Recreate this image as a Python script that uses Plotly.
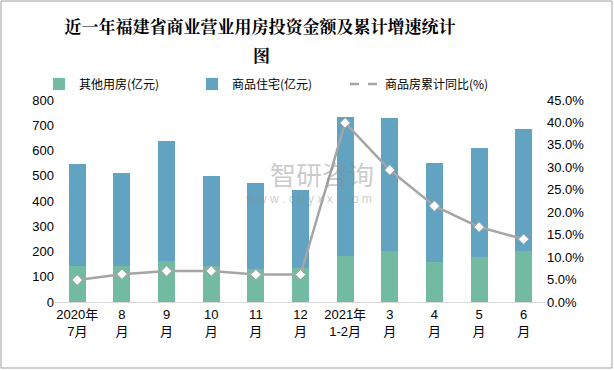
import plotly.graph_objects as go

categories = ["2020年<br>7月", "8<br>月", "9<br>月", "10<br>月", "11<br>月", "12<br>月",
              "2021年<br>1-2月", "3<br>月", "4<br>月", "5<br>月", "6<br>月"]
other_use = [143, 143, 161, 143, 129, 134, 182, 201, 158, 178, 201]
housing = [404, 368, 477, 356, 342, 310, 551, 528, 393, 432, 484]
growth_pct = [4.9, 6.2, 6.9, 6.9, 6.1, 6.1, 39.9, 29.4, 21.4, 16.7, 14.0]

FONT = "Liberation Sans, Noto Sans CJK SC, sans-serif"
TITLE_FONT = "Noto Serif CJK SC, Noto Sans CJK SC, serif"
LINE_NAME = "商品房累计同比(%)"

fig = go.Figure()
fig.add_trace(go.Bar(x=categories, y=other_use, name="其他用房(亿元)",
                     marker=dict(color="#72BBA2", line=dict(width=0))))
fig.add_trace(go.Bar(x=categories, y=housing, name="商品住宅(亿元)",
                     marker=dict(color="#62A3C2", line=dict(width=0))))
fig.add_trace(go.Scatter(x=categories, y=growth_pct, name=LINE_NAME, yaxis="y2",
                         mode="lines+markers", showlegend=False,
                         line=dict(color="#A5A5A5", width=2.5),
                         marker=dict(symbol="diamond", size=8, color="white",
                                     line=dict(color="#A5A5A5", width=1))))
# legend entry (dashed swatch as in the reference)
fig.add_trace(go.Scatter(x=[None], y=[None], name=LINE_NAME, yaxis="y2", mode="lines",
                         line=dict(color="#A5A5A5", width=2.5, dash="dash")))

fig.update_layout(
    width=614, height=370,
    margin=dict(l=55, r=68, t=100, b=68, autoexpand=False),
    paper_bgcolor="white", plot_bgcolor="white",
    barmode="stack", bargap=0.62,
    font=dict(family=FONT, size=13, color="#000000"),
    title=dict(text="<b>近一年福建省商业营业用房投资金额及累计增速统计</b>",
               x=260 / 614, xanchor="center", xref="container",
               y=(370 - 27) / 370, yanchor="middle", yref="container",
               font=dict(family=TITLE_FONT, size=17, color="#000000")),
    legend=dict(orientation="h", x=(39 - 55) / 491, xanchor="left", y=(302 - 84) / 202, yanchor="middle",
                font=dict(family="Noto Sans CJK SC, sans-serif", size=12, color="#000000"),
                itemwidth=30, traceorder="normal", entrywidth=108, bgcolor="rgba(0,0,0,0)"),
    xaxis=dict(showline=True, linecolor="#D9D9D9", linewidth=1, ticks="",
               range=[-0.5, len(categories) - 0.5],
               tickfont=dict(size=13), showgrid=False),
    yaxis=dict(range=[0, 800], dtick=100, showgrid=False, zeroline=False,
               showline=False, tickfont=dict(size=13)),
    yaxis2=dict(range=[0, 45], dtick=5, overlaying="y", side="right", showgrid=False,
                zeroline=False, ticksuffix="%", tickformat=".1f", tickfont=dict(size=13)),
    shapes=[dict(type="rect", xref="paper", yref="paper",
                 x0=(1 - 55) / 491, x1=(612 - 55) / 491,
                 y0=(302 - 368) / 202, y1=(302 - 1) / 202,
                 line=dict(color="#A0A0A0", width=1), fillcolor="rgba(0,0,0,0)")],
    annotations=[
        dict(text="<b>图</b>", xref="paper", yref="paper", x=(261 - 55) / 491, y=(302 - 54) / 202,
             xanchor="center", yanchor="middle",
             showarrow=False, font=dict(family=TITLE_FONT, size=17, color="#000000")),
        dict(text="智研咨询", xref="paper", yref="paper", x=(322 - 55) / 491, y=(302 - 176) / 202,
             xanchor="center", yanchor="middle",
             showarrow=False, font=dict(size=26, color="rgba(140,140,140,0.45)")),
        dict(text="w w w . c h y x x . c o m", xref="paper", yref="paper",
             x=(308 - 55) / 491, y=(302 - 199) / 202, xanchor="center", yanchor="middle",
             showarrow=False, font=dict(size=12, color="rgba(140,140,140,0.45)")),
    ],
)

fig.write_html("out.html", config={"displayModeBar": False},
               post_script="document.body.style.margin='0';document.body.style.overflow='hidden';")
